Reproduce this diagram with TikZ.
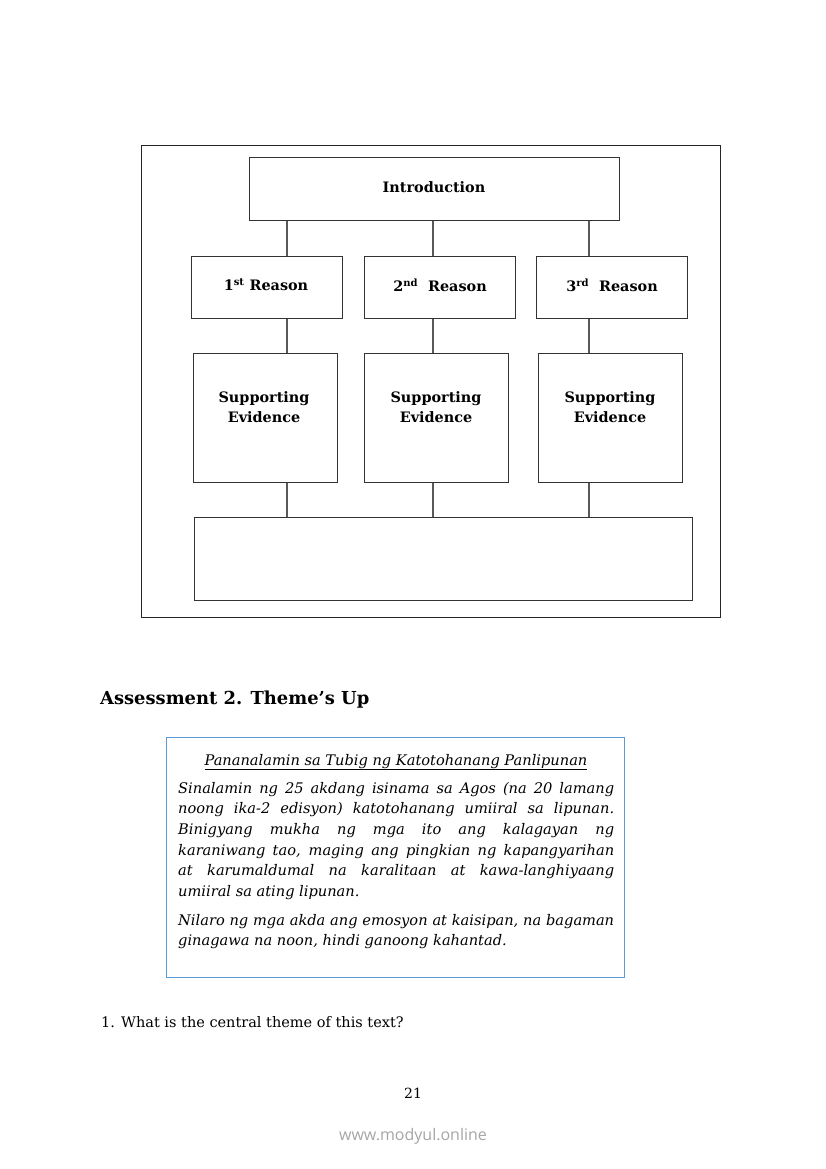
\documentclass[tikz,border=0pt]{standalone}
\usepackage{fontspec}
\setmainfont{DejaVu Serif}
\newfontfamily\webfont{Open Sans}
\usetikzlibrary{calc}
\definecolor{boxblue}{RGB}{91,155,213}
\tikzset{
  frame/.style={draw=black!85, line width=1pt},
  box/.style={draw=black!80, line width=1.2pt, rectangle, inner sep=0pt},
  conn/.style={draw=black!65, line width=2.4pt},
  lbl/.style={font=\fontsize{14.4}{20}\selectfont\bfseries, inner sep=0pt, align=center},
}
\begin{document}
\begin{tikzpicture}[x=1pt,y=-1pt]
\useasboundingbox[fill=white] (0,0) rectangle (826,1169);
% outer frame
\node[frame, rectangle, inner sep=0pt, minimum width=579pt, minimum height=472pt, anchor=north west] (frm) at (141,145) {};
% boxes
\node[box, minimum width=370pt, minimum height=63pt, anchor=north west] (intro) at (249,157) {};
\node[box, minimum width=151pt, minimum height=62pt, anchor=north west] (r1) at (191,256) {};
\node[box, minimum width=151pt, minimum height=62pt, anchor=north west] (r2) at (364,256) {};
\node[box, minimum width=151pt, minimum height=62pt, anchor=north west] (r3) at (536,256) {};
\node[box, minimum width=144pt, minimum height=129pt, anchor=north west] (s1) at (193,353) {};
\node[box, minimum width=144pt, minimum height=129pt, anchor=north west] (s2) at (364,353) {};
\node[box, minimum width=144pt, minimum height=129pt, anchor=north west] (s3) at (538,353) {};
\node[box, minimum width=498pt, minimum height=83pt, anchor=north west] (con) at (194,517) {};
% labels
\node[lbl] (tintro) at (434,187) {Introduction};
\node[lbl] (tr1) at (266,285) {1\textsuperscript{st} Reason};
\node[lbl] (tr2) at (440,285) {2\textsuperscript{nd}\ \ Reason};
\node[lbl] (tr3) at (612,285) {3\textsuperscript{rd}\ \ Reason};
\node[lbl] (ts1) at (264,407) {Supporting\\Evidence};
\node[lbl] (ts2) at (436,407) {Supporting\\Evidence};
\node[lbl] (ts3) at (610,407) {Supporting\\Evidence};
% connector columns
\coordinate (c1) at (287,0);
\coordinate (c2) at (433,0);
\coordinate (c3) at (589,0);
\draw[conn] (c1 |- intro.south) -- (c1 |- r1.north);
\draw[conn] (c2 |- intro.south) -- (c2 |- r2.north);
\draw[conn] (c3 |- intro.south) -- (c3 |- r3.north);
\draw[conn] (c1 |- r1.south) -- (c1 |- s1.north);
\draw[conn] (c2 |- r2.south) -- (c2 |- s2.north);
\draw[conn] (c3 |- r3.south) -- (c3 |- s3.north);
\draw[conn] (c1 |- s1.south) -- (c1 |- con.north);
\draw[conn] (c2 |- s2.south) -- (c2 |- con.north);
\draw[conn] (c3 |- s3.south) -- (c3 |- con.north);
% heading
\node[anchor=base west, inner sep=0pt, font=\fontsize{17.9}{20}\selectfont\bfseries] (head) at (100,704) {Assessment 2. Theme’s Up};
% blue text box
\node[draw=boxblue, line width=1.2pt, rectangle, inner sep=0pt, minimum width=458pt, minimum height=240pt, anchor=north west] (tbox) at (166,737) {};
\node[anchor=base, inner sep=0pt, font=\fontsize{14.6}{20}\selectfont\itshape] (ttl) at (396,765) {\underline{Pananalamin sa Tubig ng Katotohanang Panlipunan}};
\node[anchor=north west, inner sep=0pt, text width=436pt, align=justify, font=\fontsize{14.6}{20.6}\selectfont\itshape] (para1) at (178,782) {Sinalamin ng 25 akdang isinama sa Agos (na 20 lamang\linebreak noong ika-2 edisyon) katotohanang umiiral sa lipunan.\linebreak Binigyang mukha ng mga ito ang kalagayan ng\linebreak karaniwang tao, maging ang pingkian ng kapangyarihan\linebreak at karumaldumal na karalitaan at kawa-langhiyaang\linebreak umiiral sa ating lipunan.};
\node[anchor=north west, inner sep=0pt, text width=436pt, align=justify, font=\fontsize{14.6}{20.6}\selectfont\itshape] (para2) at (178,914) {Nilaro ng mga akda ang emosyon at kaisipan, na bagaman\linebreak ginagawa na noon, hindi ganoong kahantad.};
% question
\node[anchor=base west, inner sep=0pt, font=\fontsize{14.5}{16}\selectfont] (q1) at (101,1027) {1. What is the central theme of this text?};
\node[anchor=base, inner sep=0pt, font=\fontsize{14}{16}\selectfont] (pg) at (413,1098) {21};
\node[anchor=base, inner sep=0pt, text=black!35, font=\fontsize{16}{18}\selectfont\webfont] (web) at (413,1140) {www.modyul.online};
\end{tikzpicture}
\end{document}
